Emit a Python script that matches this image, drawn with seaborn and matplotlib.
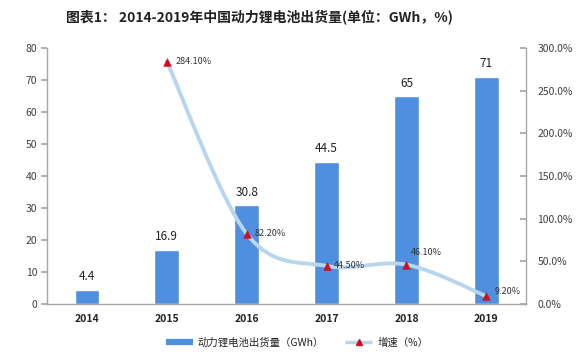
import matplotlib
matplotlib.use("Agg")
import matplotlib.pyplot as plt
from matplotlib.path import Path
from matplotlib.patches import PathPatch
from matplotlib.lines import Line2D
import seaborn as sns
import pandas as pd
import numpy as np

years = ["2014", "2015", "2016", "2017", "2018", "2019"]
shipments = [4.4, 16.9, 30.8, 44.5, 65, 71]
growth_years = ["2015", "2016", "2017", "2018", "2019"]
growth = [284.10, 82.20, 44.50, 46.10, 9.20]
growth_labels = ["284.10%", "82.20%", "44.50%", "46.10%", "9.20%"]
title = "图表1： 2014-2019年中国动力锂电池出货量(单位：GWh，%)"
bar_name = "动力锂电池出货量（GWh）"
line_name = "增速（%）"

sns.set_theme(style="white")
plt.rcParams['font.family'] = ['Noto Sans CJK SC', 'DejaVu Sans']

bar_color = "#4f8fe0"
line_color = "#b8d5ee"
marker_color = "#cc1122"
axis_color = "#a6a6a6"
text_color = "#404040"

fig = plt.figure(figsize=(5.88, 3.61), dpi=100)
ax = fig.add_axes([0.080, 0.158, 0.815, 0.709])

df = pd.DataFrame({"year": years, "val": shipments})
sns.barplot(data=df, x="year", y="val", color=bar_color, width=0.31,
            saturation=1, ax=ax, zorder=2)
ax.set_xlim(-0.5, 5.5)
ax.set_ylim(0, 80)
ax.set_yticks(range(0, 81, 10))
ax.set_xlabel("")
ax.set_ylabel("")
for i, v in enumerate(shipments):
    ax.text(i, v + 2.0, f"{v:g}", ha="center", va="bottom", fontsize=8.5,
            color="#222222")

for s in ["top", "right"]:
    ax.spines[s].set_visible(False)
for s in ["left", "bottom"]:
    ax.spines[s].set_color(axis_color)
    ax.spines[s].set_linewidth(1.0)
ax.tick_params(axis="y", direction="out", length=4, color=axis_color,
               labelsize=7.5, labelcolor=text_color, pad=3, left=True)
ax.tick_params(axis="x", length=0, labelsize=7.5, pad=7)
for lab in ax.get_xticklabels():
    lab.set_fontweight("bold")
    lab.set_color("#222222")

ax2 = ax.twinx()
ax2.set_ylim(0, 300)
ax2.set_yticks(range(0, 301, 50))
ax2.set_yticklabels([f"{t:.1f}%" for t in range(0, 301, 50)])
for s in ["top", "left", "bottom"]:
    ax2.spines[s].set_visible(False)
ax2.spines["right"].set_color(axis_color)
ax2.spines["right"].set_linewidth(1.0)
ax2.tick_params(axis="y", direction="in", length=4, color=axis_color,
                labelsize=7.5, labelcolor=text_color, pad=8, right=True)

# smooth line (Bezier rendering through the data points)
xs = np.array([years.index(y) for y in growth_years], dtype=float)
ys = np.array(growth, dtype=float)
n = len(xs)
verts = [(xs[0], ys[0])]
codes = [Path.MOVETO]
t = 1 / 6
for i in range(n - 1):
    p0 = (xs[i - 1], ys[i - 1]) if i > 0 else (xs[i], ys[i])
    p1 = (xs[i], ys[i])
    p2 = (xs[i + 1], ys[i + 1])
    p3 = (xs[i + 2], ys[i + 2]) if i + 2 < n else (xs[i + 1], ys[i + 1])
    c1 = (p1[0] + (p2[0] - p0[0]) * t, p1[1] + (p2[1] - p0[1]) * t)
    c2 = (p2[0] - (p3[0] - p1[0]) * t, p2[1] - (p3[1] - p1[1]) * t)
    verts += [c1, c2, p2]
    codes += [Path.CURVE4] * 3
ax2.add_patch(PathPatch(Path(verts, codes), facecolor="none",
                        edgecolor=line_color, lw=2.8, zorder=3,
                        capstyle="round"))

gdf = pd.DataFrame({"x": xs, "y": ys})
sns.scatterplot(data=gdf, x="x", y="y", marker="^", s=30, color=marker_color,
                edgecolor=marker_color, ax=ax2, zorder=4, legend=False)
ax2.set_xlabel("")
ax2.set_ylabel("")
ax2.set_xlim(-0.5, 5.5)

offsets = [(6, 0), (6, 0), (5, 0), (3, 9), (6, 3)]
for (x, y, lab, off) in zip(xs, ys, growth_labels, offsets):
    ax2.annotate(lab, (x, y), xytext=off, textcoords="offset points",
                 ha="left", va="center", fontsize=6.5, color="#333333",
                 zorder=5)

fig.text(0.442, 0.953, title, ha="center", va="center", fontsize=10,
         fontweight="bold", color="#222222")

handles = [Line2D([0], [0], color=bar_color, lw=4.5, solid_capstyle="butt"),
           Line2D([0], [0], color=line_color, lw=2.5, marker="^",
                  markersize=4.5, markerfacecolor=marker_color,
                  markeredgecolor=marker_color, solid_capstyle="butt")]
fig.legend(handles, [bar_name, line_name], loc="center",
           bbox_to_anchor=(0.505, 0.052), ncol=2, frameon=False,
           fontsize=7.5, handlelength=2.6, columnspacing=2.0,
           handletextpad=0.5, labelcolor="#222222")

fig.savefig("out.png", dpi=100)
